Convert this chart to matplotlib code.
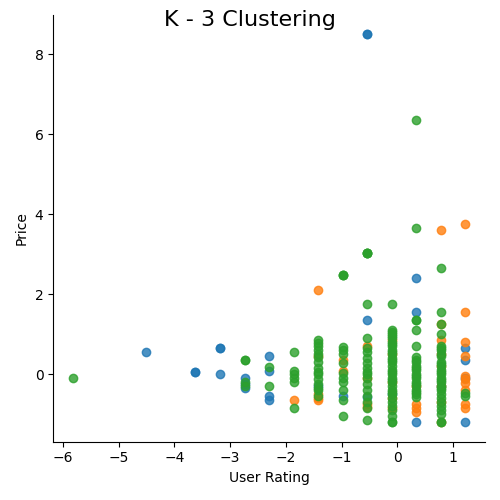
import matplotlib
matplotlib.use('Agg')
import matplotlib.pyplot as plt
import seaborn as sns
import pandas as pd

# cluster 0 (blue)
rating_0 = [-0.54, -0.54, -4.50, -3.62, -3.62, -3.18, -3.18, -3.18, -2.74, -2.74, -2.74,
            -2.30, -2.30, -2.30, -2.30, -1.42, -0.98, -0.54, -0.54, -0.10, 0.34,
            0.34, 0.34, 0.78, 1.22, 1.22, 1.22, 1.22]
price_0 = [8.5, 8.5, 0.55, 0.07, 0.07, 0.65, 0.65, 0.0, -0.1, -0.25, -0.35,
           0.45, 0.08, -0.55, -0.65, -0.28, -0.55, 1.37, -0.57, -0.5, 2.4,
           1.57, -1.2, -0.3, 0.65, 0.35, -0.1, -1.2]

# cluster 1 (orange)
rating_1 = [-1.86, -1.42, -1.42, -1.42, -1.42, -1.42, -0.98, -0.98,
            -0.54, -0.54, -0.54, -0.54,
            -0.10, -0.10, -0.10, -0.10, -0.10,
            0.34, 0.34, 0.34, 0.34,
            0.78, 0.78, 0.78, 0.78, 0.78, 0.78, 0.78, 0.78,
            1.22, 1.22, 1.22, 1.22, 1.22, 1.22, 1.22, 1.22, 1.22, 1.22]
price_1 = [-0.65, 2.12, 0.45, -0.5, -0.6, -0.65, 0.35, 0.08,
           0.72, -0.08, -0.73, -0.82,
           0.85, 0.5, -0.2, -0.6, -0.85,
           -0.75, -0.85, -0.95, -0.3,
           3.6, 1.27, 0.85, 0.5, 0.2, -0.3, -0.7, -1.2,
           3.77, 1.57, 0.82, 0.45, -0.03, -0.12, -0.22, -0.4, -0.73, -0.85]

# cluster 2 (green)
rating_2 = ([-5.82, -2.74, -2.74, -2.74, -2.74, -2.30, -2.30]
            + [-1.86] * 6
            + [-1.42] * 15
            + [-0.98] * 13
            + [-0.54] * 20
            + [-0.10] * 33
            + [0.34] * 22
            + [0.78] * 29
            + [1.22] * 2)
price_2 = ([-0.1, 0.35, 0.35, -0.2, -0.3, 0.18, -0.28]
           + [0.55, 0.08, 0.02, -0.08, -0.2, -0.85]
           + [0.85, 0.78, 0.72, 0.6, 0.5, 0.43, 0.3, 0.15, 0.05, 0.0, -0.12,
              -0.25, -0.33, -0.4, -0.55]
           + [2.48, 2.48, 2.48, 0.68, 0.62, 0.5, 0.28, 0.03, -0.1, -0.2, -0.4,
              -0.65, -1.03]
           + [3.03, 3.03, 3.03, 3.03, 1.75, 0.92, 0.65, 0.55, 0.42, 0.28, 0.15,
              0.05, 0.0, -0.1, -0.25, -0.4, -0.55, -0.7, -0.85, -1.13]
           + [1.75, 1.1, 1.05, 1.0, 0.95, 0.9, 0.8, 0.75, 0.7, 0.6, 0.55, 0.5,
              0.4, 0.35, 0.3, 0.2, 0.1, 0.05, 0.0, -0.1, -0.15, -0.2, -0.3,
              -0.4, -0.45, -0.5, -0.6, -0.7, -0.8, -0.9, -1.03, -1.2, -1.2]
           + [6.37, 3.67, 1.37, 1.37, 1.1, 0.72, 0.43, 0.35, 0.3, 0.2, 0.15,
              0.1, 0.0, -0.05, -0.1, -0.2, -0.25, -0.3, -0.4, -0.45, -0.5, -0.57]
           + [2.67, 1.57, 1.27, 1.02, 0.72, 0.65, 0.6, 0.5, 0.45, 0.3, 0.25,
              0.2, 0.1, 0.05, 0.0, -0.1, -0.15, -0.2, -0.3, -0.35, -0.4, -0.5,
              -0.6, -0.7, -0.8, -0.9, -1.0, -1.2, -1.2]
           + [-0.47, -0.55])

df = pd.DataFrame({
    'User Rating': rating_0 + rating_1 + rating_2,
    'Price': price_0 + price_1 + price_2,
    'cluster': [0] * len(rating_0) + [1] * len(rating_1) + [2] * len(rating_2),
})

sns.lmplot(x='User Rating', y='Price', hue='cluster', data=df,
           fit_reg=False, legend=False)
plt.suptitle('K - 3 Clustering', fontsize=16)
plt.savefig('out.png')
